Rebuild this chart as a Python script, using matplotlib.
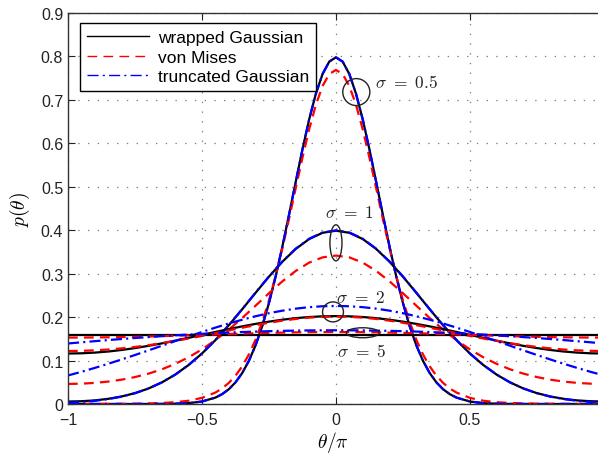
import numpy as np
import matplotlib.pyplot as plt
from matplotlib.patches import Ellipse

plt.rcParams["font.family"] = ["Liberation Sans", "DejaVu Sans"]
plt.rcParams["mathtext.fontset"] = "cm"
plt.rcParams["lines.scale_dashes"] = False

# theta/pi grid, only x >= 0 (curves are symmetric, mirrored below)
x_half = [0.0, 0.05, 0.1, 0.15, 0.2, 0.25, 0.3, 0.35, 0.4, 0.45, 0.5,
          0.55, 0.6, 0.65, 0.7, 0.75, 0.8, 0.85, 0.9, 0.95, 1.0]
# finer grid for the narrow sigma = 0.5 curves
x_half_narrow = [0.0, 0.025, 0.05, 0.075, 0.1, 0.125, 0.15, 0.175, 0.2, 0.225,
                 0.25, 0.275, 0.3, 0.325, 0.35, 0.375, 0.4, 0.425, 0.45,
                 0.5, 0.55, 0.6, 0.65, 0.7, 0.75, 0.8, 0.85, 0.9, 0.95, 1.0]

# sigma = 0.5
wrapped_05 = [0.7979, 0.7881, 0.7595, 0.7140, 0.6550, 0.5861, 0.5117, 0.4359, 0.3623, 0.2937,
              0.2324, 0.1793, 0.1350, 0.0992, 0.0711, 0.0497, 0.0339, 0.0226, 0.0147,
              0.0057, 0.0020, 0.0007, 0.0002, 0.0001, 0.0, 0.0, 0.0, 0.0, 0.0, 0.0]
mises_05 = [0.7689, 0.7595, 0.7319, 0.6884, 0.6322, 0.5670, 0.4972, 0.4264, 0.3582, 0.2949,
            0.2383, 0.1892, 0.1478, 0.1139, 0.0866, 0.0651, 0.0485, 0.0358, 0.0263,
            0.0141, 0.0075, 0.0041, 0.0023, 0.0013, 0.0008, 0.0006, 0.0004, 0.0003, 0.0003, 0.0003]
trunc_05 = [0.7979, 0.7881, 0.7595, 0.7140, 0.6550, 0.5861, 0.5117, 0.4359, 0.3623, 0.2937,
            0.2324, 0.1793, 0.1350, 0.0992, 0.0711, 0.0497, 0.0339, 0.0226, 0.0147,
            0.0057, 0.0020, 0.0007, 0.0002, 0.0001, 0.0, 0.0, 0.0, 0.0, 0.0, 0.0]

# sigma = 1
wrapped_1 = [0.3989, 0.3941, 0.3797, 0.3570, 0.3275, 0.2931, 0.2559, 0.2180, 0.1811, 0.1469, 0.1162,
             0.0897, 0.0675, 0.0496, 0.0356, 0.0250, 0.0173, 0.0119, 0.0083, 0.0064, 0.0057]
mises_1 = [0.3417, 0.3375, 0.3254, 0.3064, 0.2823, 0.2550, 0.2263, 0.1979, 0.1712, 0.1470, 0.1257,
           0.1075, 0.0923, 0.0798, 0.0698, 0.0620, 0.0560, 0.0516, 0.0486, 0.0468, 0.0462]
trunc_1 = [0.3996, 0.3947, 0.3804, 0.3576, 0.3280, 0.2936, 0.2563, 0.2183, 0.1814, 0.1471, 0.1164,
           0.0898, 0.0676, 0.0497, 0.0356, 0.0249, 0.0170, 0.0113, 0.0073, 0.0047, 0.0029]

# sigma = 2
wrapped_2 = [0.2023, 0.2018, 0.2002, 0.1976, 0.1940, 0.1896, 0.1844, 0.1787, 0.1724, 0.1658, 0.1591,
             0.1523, 0.1458, 0.1395, 0.1338, 0.1287, 0.1243, 0.1208, 0.1183, 0.1167, 0.1162]
mises_2 = [0.2012, 0.2006, 0.1988, 0.1958, 0.1918, 0.1870, 0.1815, 0.1755, 0.1693, 0.1630, 0.1567,
           0.1507, 0.1451, 0.1399, 0.1353, 0.1313, 0.1280, 0.1254, 0.1235, 0.1224, 0.1220]
trunc_2 = [0.2257, 0.2250, 0.2229, 0.2195, 0.2148, 0.2090, 0.2020, 0.1940, 0.1853, 0.1758, 0.1658,
           0.1554, 0.1448, 0.1340, 0.1233, 0.1128, 0.1025, 0.0926, 0.0831, 0.0741, 0.0657]

# sigma = 5
wrapped_5 = [0.1592] * 21
mises_5 = [0.1656, 0.1655, 0.1653, 0.1649, 0.1643, 0.1637, 0.1629, 0.1620, 0.1611, 0.1601, 0.1591,
           0.1581, 0.1571, 0.1562, 0.1554, 0.1547, 0.1540, 0.1535, 0.1532, 0.1529, 0.1529]
trunc_5 = [0.1697, 0.1696, 0.1694, 0.1689, 0.1684, 0.1676, 0.1667, 0.1656, 0.1644, 0.1630, 0.1615,
           0.1599, 0.1581, 0.1561, 0.1540, 0.1519, 0.1496, 0.1471, 0.1446, 0.1420, 0.1393]

sigma_labels = ["$\\sigma\\ =\\ 0.5$", "$\\sigma\\ =\\ 1$", "$\\sigma\\ =\\ 2$", "$\\sigma\\ =\\ 5$"]
series_labels = ["wrapped Gaussian", "von Mises", "truncated Gaussian"]


def full(xh, yh):
    xh, yh = np.asarray(xh), np.asarray(yh)
    return np.concatenate([-xh[:0:-1], xh]), np.concatenate([yh[:0:-1], yh])


fig = plt.figure(figsize=(5.98, 4.56), dpi=100)
ax = fig.add_axes([68 / 598, 1 - 405 / 456, 530 / 598, 391 / 456])

LW = 1.6
sets = [
    (x_half_narrow, wrapped_05, mises_05, trunc_05),
    (x_half, wrapped_1, mises_1, trunc_1),
    (x_half, wrapped_2, mises_2, trunc_2),
    (x_half, wrapped_5, mises_5, trunc_5),
]
for i, (xh, w, m, t) in enumerate(sets):
    ax.plot(*full(xh, w), color="black", lw=LW, label=series_labels[0] if i == 0 else None)
    ax.plot(*full(xh, m), color="#ff0000", lw=LW, dashes=(7, 4.5),
            label=series_labels[1] if i == 0 else None)
    ax.plot(*full(xh, t), color="#0000ff", lw=LW, dashes=(8, 3, 1.5, 3),
            label=series_labels[2] if i == 0 else None)

# annotations
ell_kw = dict(fill=False, edgecolor="#222222", lw=1.0, zorder=5)
ax.add_patch(Ellipse((0.076, 0.718), 0.101, 0.062, **ell_kw))
ax.add_patch(Ellipse((0.0, 0.371), 0.045, 0.083, **ell_kw))
ax.add_patch(Ellipse((-0.011, 0.212), 0.078, 0.046, **ell_kw))
ax.add_patch(Ellipse((0.10, 0.164), 0.123, 0.023, **ell_kw))

tkw = dict(fontsize=12.5, color="#222222")
ax.text(0.145, 0.742, sigma_labels[0], ha="left", va="center", **tkw)
ax.text(0.052, 0.442, sigma_labels[1], ha="center", va="center", **tkw)
ax.text(0.093, 0.247, sigma_labels[2], ha="center", va="center", **tkw)
ax.text(0.097, 0.122, sigma_labels[3], ha="center", va="center", **tkw)

ax.set_xlim(-1, 0.978)
ax.set_ylim(0, 0.9)
ax.set_xticks([-1, -0.5, 0, 0.5])
ax.set_xticklabels(["\u22121", "\u22120.5", "0", "0.5"])
ax.set_yticks(np.arange(0, 0.91, 0.1))
ax.set_yticklabels(["0"] + ["%.1f" % v for v in np.arange(0.1, 0.91, 0.1)])
ax.tick_params(direction="in", length=5, width=0.8, labelsize=11.5,
               top=True, right=False, colors="#222222")
ax.tick_params(axis="x", pad=6)
ax.spines["right"].set_visible(False)
for s in ["left", "top", "bottom"]:
    ax.spines[s].set_linewidth(1.0)
    ax.spines[s].set_color("#333333")

ax.grid(True, color="0.5", lw=0.9, linestyle=(0, (1, 6)))
ax.set_axisbelow(True)

ax.set_xlabel("$\\theta/\\pi$", fontsize=14, labelpad=1)
ax.set_ylabel("$p(\\theta)$", fontsize=14, labelpad=6)

leg = ax.legend(loc="upper left", bbox_to_anchor=(0.0226, 0.974), borderaxespad=0,
                fontsize=12.5, handlelength=3.6, handletextpad=0.5, labelspacing=0.25,
                borderpad=0.4, fancybox=False, framealpha=1, edgecolor="black")
leg.get_frame().set_linewidth(1.0)
for line in leg.get_lines():
    line.set_linewidth(1.0)

fig.savefig("out.png", dpi=100)
